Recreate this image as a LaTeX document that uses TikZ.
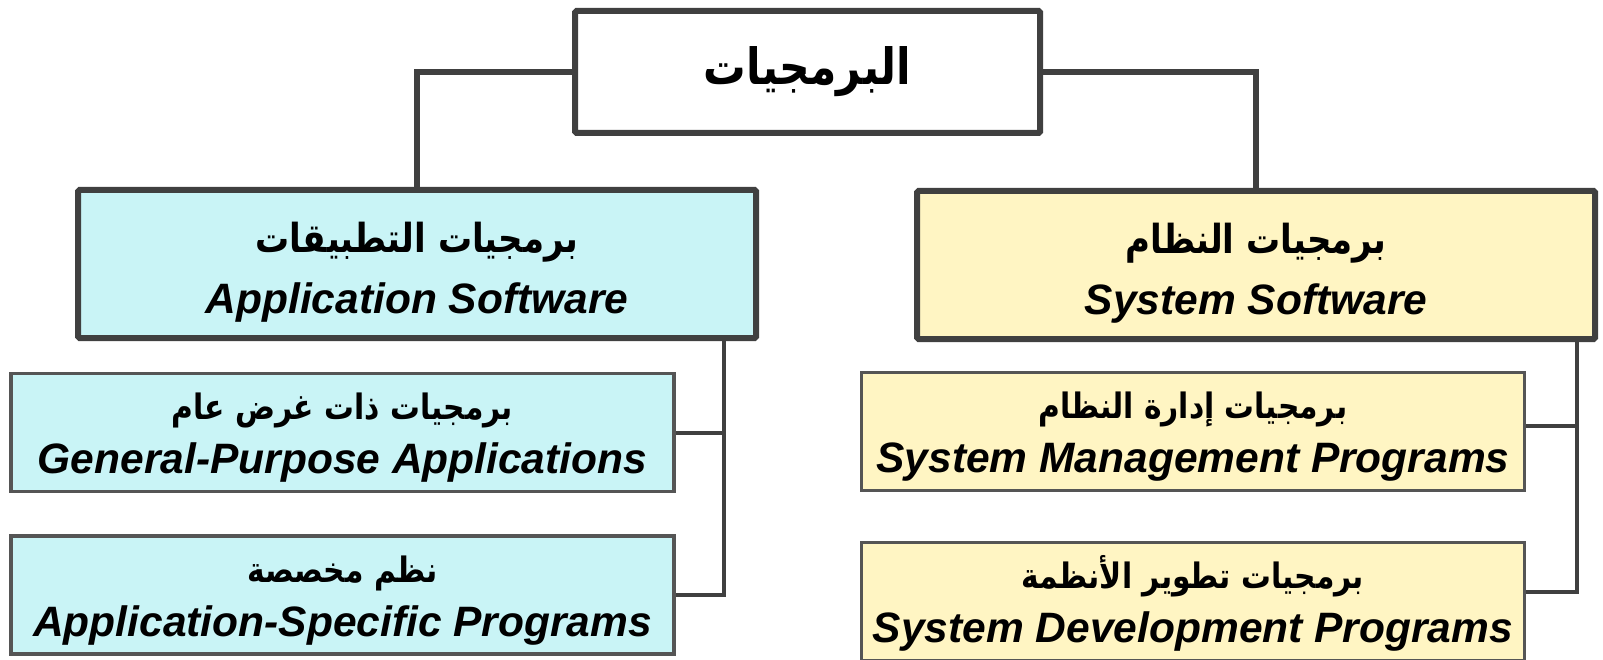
\documentclass[tikz,border=0pt]{standalone}
\usepackage{fontspec}
\setmainfont{Liberation Sans}
\newfontfamily\arabicfont[Script=Arabic,FakeStretch=0.85]{DejaVu Sans}
\TeXXeTstate=1
\usetikzlibrary{calc}

\definecolor{linegray}{HTML}{404040}
\definecolor{subgray}{HTML}{555555}
\definecolor{appcyan}{HTML}{C9F4F6}
\definecolor{sysyellow}{HTML}{FFF5C3}

% arabische Schrift in gegebener Groesse
\newcommand{\arfont}[1]{\arabicfont\bfseries\fontsize{#1}{#1}\selectfont}
\newcommand{\entext}[1]{{\bfseries\itshape #1}}
% unsichtbare Stuetzen fuer die Zeilenlage
\newcommand{\obenstrut}[1]{\rule{0pt}{#1}}
\newcommand{\untenstrut}[1]{\rule[-#1]{0pt}{0pt}}

\begin{document}
\begin{tikzpicture}[x=1pt, y=-1pt,
    hauptbox/.style={draw=linegray, line width=6pt, rounded corners=1.5pt,
      inner sep=0pt, align=center, minimum width=678pt, minimum height=148pt,
      font=\fontsize{42.5}{61}\selectfont},
    unterbox/.style={draw=subgray, line width=3.5pt, inner sep=0pt,
      align=center, minimum width=663pt, minimum height=118pt,
      font=\fontsize{42.5}{54}\selectfont},
    verbindung/.style={draw=linegray, line width=6pt},
    zweig/.style={draw=linegray, line width=4pt}]
    \useasboundingbox (0,0) rectangle (1603,660);

    % Wurzel
    \node[hauptbox, fill=white, minimum width=465pt, minimum height=122pt]
      (wurzel) at (807.5,72) {{\arfont{50}\beginR البرمجيات\endR}};

    % zweite Ebene
    \node[hauptbox, fill=appcyan] (anwendung) at (417,264)
      {\obenstrut{50pt}{\arfont{40}\beginR برمجيات التطبيقات\endR}\\
       \entext{Application Software}\untenstrut{13pt}};
    \node[hauptbox, fill=sysyellow] (system) at (1256,265)
      {\obenstrut{50pt}{\arfont{40}\beginR برمجيات النظام\endR}\\
       \entext{System Software}\untenstrut{13pt}};

    % dritte Ebene links
    \node[unterbox, fill=appcyan] (allgemein) at (342.5,432.5)
      {\obenstrut{42pt}{\arfont{35}\beginR برمجيات ذات غرض عام\endR}\\
       \entext{General-Purpose Applications}\untenstrut{14pt}};
    \node[unterbox, fill=appcyan] (speziell) at (342.5,595)
      {\obenstrut{42pt}{\arfont{35}\beginR نظم مخصصة\endR}\\
       \entext{Application-Specific Programs}\untenstrut{14pt}};

    % dritte Ebene rechts
    \node[unterbox, fill=sysyellow] (verwaltung) at (1193,431.5)
      {\obenstrut{42pt}{\arfont{35}\beginR برمجيات إدارة النظام\endR}\\
       \entext{System Management Programs}\untenstrut{14pt}};
    \node[unterbox, fill=sysyellow] (entwicklung) at (1193,601.5)
      {\obenstrut{42pt}{\arfont{35}\beginR برمجيات تطوير الأنظمة\endR}\\
       \entext{System Development Programs}\untenstrut{14pt}};

    % Verbindungen oben
    \draw[verbindung] (wurzel.west) -| (anwendung.north);
    \draw[verbindung] (wurzel.east) -| (system.north);

    % Verbindungen links
    \draw[zweig] ($(anwendung.south east)+(-35,0)$) coordinate (astamm) |- (speziell.east);
    \draw[zweig] (astamm |- allgemein.east) -- (allgemein.east);

    % Verbindungen rechts
    \coordinate (vanschluss) at ([yshift=6pt]verwaltung.east);
    \coordinate (eanschluss) at ([yshift=10pt]entwicklung.east);
    \draw[zweig] ($(system.south east)+(-21,0)$) coordinate (sstamm) |- (eanschluss);
    \draw[zweig] (sstamm |- vanschluss) -- (vanschluss);
\end{tikzpicture}
\end{document}
